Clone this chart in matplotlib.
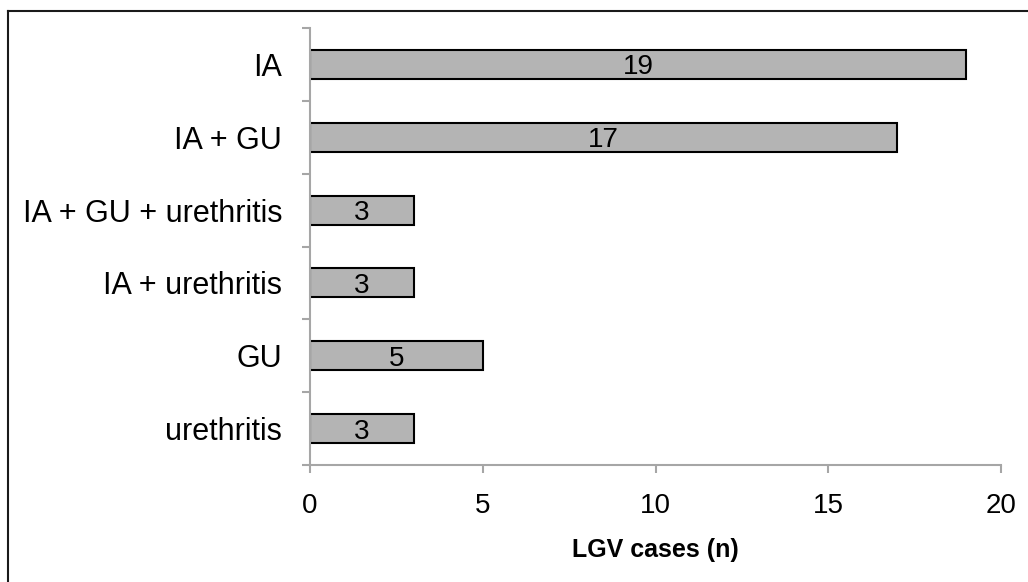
import matplotlib
matplotlib.use("Agg")
import matplotlib.pyplot as plt
from matplotlib.lines import Line2D
import numpy as np

plt.rcParams['font.family'] = ['Liberation Sans', 'DejaVu Sans']

categories = ['IA', 'IA + GU', 'IA + GU + urethritis', 'IA + urethritis', 'GU', 'urethritis']
cases = [19, 17, 3, 3, 5, 3]
xticks = [0, 5, 10, 15, 20]

fig = plt.figure(figsize=(10.28, 5.82), dpi=100)
ax = fig.add_axes([310 / 1028, 1 - 465 / 582, (1001 - 310) / 1028, (465 - 28) / 582])

pos = np.arange(len(categories))
bars = ax.barh(pos, cases, height=0.4, color='#b4b4b4', edgecolor='black', linewidth=1.5)
for p, v in zip(pos, cases):
    ax.text(v / 2, p, str(v), ha='center', va='center_baseline', fontsize=20)

ax.set_xlim(0, 20)
ax.set_ylim(len(categories) - 0.5, -0.5)
ax.set_xticks(xticks)
ax.set_yticks(pos)
ax.set_yticklabels(categories)
ax.set_yticks(np.arange(-0.5, len(categories)), minor=True)

grey = '#a6a6a6'
for side in ['top', 'right']:
    ax.spines[side].set_visible(False)
for side in ['left', 'bottom']:
    ax.spines[side].set_color(grey)
    ax.spines[side].set_linewidth(1.5)

ax.tick_params(axis='y', which='major', length=0, pad=20, labelsize=22)
ax.tick_params(axis='y', which='minor', length=6, width=1.5, color=grey)
ax.tick_params(axis='x', which='major', length=6, width=1.5, color=grey, pad=14, labelsize=20)
ax.set_xlabel('LGV cases (n)', fontsize=18, fontweight='bold', labelpad=14)

# outer frame (only top and left edges visible in the image)
fig.add_artist(Line2D([8 / 1028, 1.01], [1 - 11 / 582, 1 - 11 / 582], transform=fig.transFigure,
                      color='#1a1a1a', linewidth=1.5))
fig.add_artist(Line2D([8 / 1028, 8 / 1028], [-0.01, 1 - 11 / 582], transform=fig.transFigure,
                      color='#1a1a1a', linewidth=1.5))

fig.savefig('out.png', dpi=100)
